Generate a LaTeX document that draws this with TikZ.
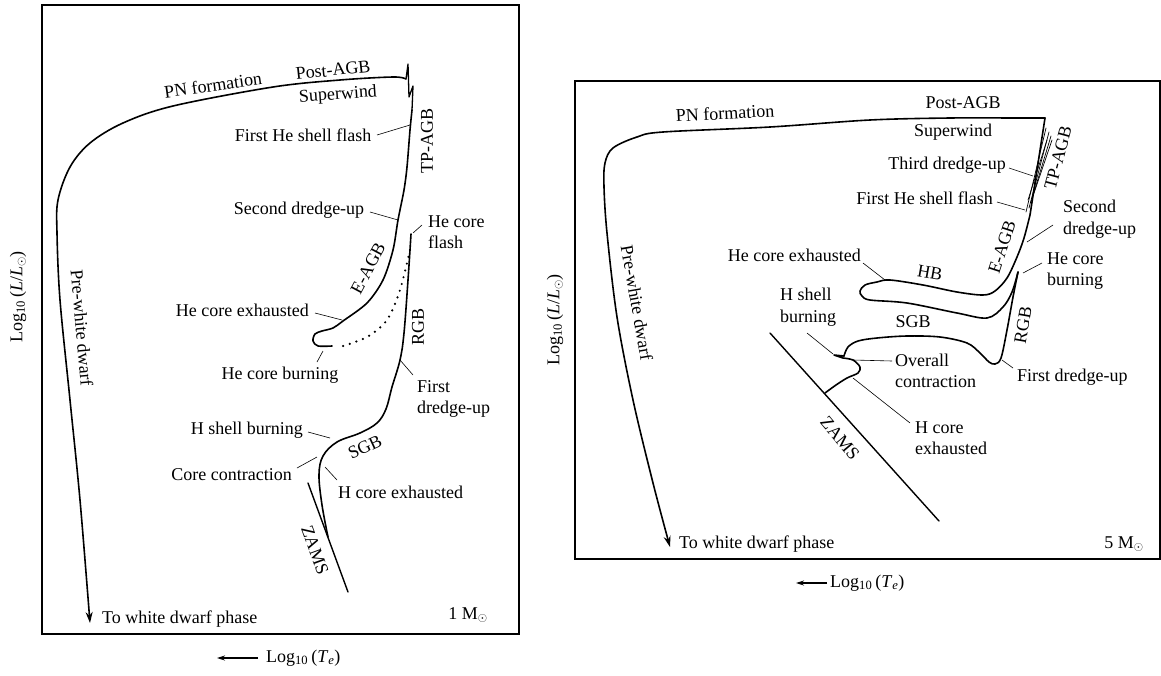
\documentclass[tikz,border=0pt]{standalone}
\usepackage{fontspec}
\setmainfont{Liberation Serif}
\usetikzlibrary{arrows.meta}
\begin{document}
\begin{tikzpicture}[x=1pt,y=-1pt,
  track/.style={line width=1.6pt,line join=round,line cap=round},
  thintrack/.style={line width=0.7pt,line cap=round},
  leader/.style={line width=0.6pt},
  frame/.style={line width=1.2pt},
  lab/.style={font=\fontsize{18}{21.5}\selectfont, inner sep=1pt},
  lab2/.style={lab, align=left, anchor=west},
  tip/.style={-{Stealth[length=11pt,width=7pt]}}]
\useasboundingbox (0,0) rectangle (1161,675);

%================ LEFT PANEL (1 Msun) ================
\draw[frame] (42,5) rectangle (519,634);

% ZAMS
\draw[track,line width=1.4pt] (308,483) -- (348,592);
% MS -> SGB -> RGB tip
\draw[track] plot[smooth,tension=0.6] coordinates {(328,537) (322,505) (319,475) (323,456) (337,442) (360,433) (377,423) (386,409) (392,387) (400,360) (404,333) (408,280) (411,234)};
% He flash (dotted)
\draw[line width=2.4pt,line cap=round,dash pattern=on 0pt off 7pt] plot[smooth] coordinates {(410,250) (400,290) (387,320) (367,337) (340,347)};
% He core burning -> E-AGB -> TP-AGB
\draw[track] plot[smooth,tension=0.5] coordinates {(332,346) (318,346) (313,341) (315,334) (322,331) (333,328) (343,321) (367,303) (383,280) (393,250) (398,220) (404,190) (407,167) (410,130) (412,110)};
% thermal pulses
\draw[track,line width=1.3pt] (412,110) -- (413,86) -- (409,97) -- (408,64) -- (406,79);
% Post-AGB -> pre-white dwarf
\draw[track,tip] plot[smooth,tension=0.55] coordinates {(406,79) (393,77) (340,80) (273,87) (173,106) (123,123) (90,143) (70,167) (58,200) (57,233) (60,300) (70,400) (80,500) (90,623)};

% labels
\node[lab,rotate=8] (lpn) at (213,85) {PN formation};
\node[lab,rotate=6] (lpagb) at (333,70) {Post-AGB};
\node[lab,rotate=4] (lsw) at (338,95) {Superwind};
\node[lab] (lfhsf) at (303,135) {First He shell flash};
\node[lab,rotate=90] (ltpagb) at (427,141) {TP-AGB};
\node[lab] (lsdu) at (299,210) {Second dredge-up};
\node[lab2] (lhcf) at (427,232) {He core\\flash};
\node[lab,rotate=62] (leagb) at (368,268) {E-AGB};
\node[lab,anchor=east] (lhce) at (310,310) {He core exhausted};
\node[lab] (lhcb) at (280,375) {He core burning};
\node[lab,rotate=90] (lrgb) at (418,327) {RGB};
\node[lab2] (lfdu) at (416,399) {First\\dredge-up};
\node[lab,anchor=east] (lhsb) at (304,430) {H shell burning};
\node[lab,rotate=25] (lsgb) at (365,447) {SGB};
\node[lab,anchor=east] (lcc) at (293,475) {Core contraction};
\node[lab,anchor=west] (lhcx) at (337,492) {H core exhausted};
\node[lab,rotate=-70] (lzams) at (315,550) {ZAMS};
\node[lab,rotate=-85] (lpwd) at (82,328) {Pre-white dwarf};
\node[lab,anchor=west] (ltwd) at (101,619) {To white dwarf phase};
\node[lab] (lmass) at (468,615) {1 M\textsubscript{$\odot$}};
\node[lab,rotate=90] (lylab) at (18,297) {Log\textsubscript{10}\,(\textit{L}/\textit{L}\textsubscript{$\odot$})};
\node[lab,anchor=west] (lxlab) at (265,658) {Log\textsubscript{10}\,(\textit{T}\textsubscript{\textit{e}})};
\coordinate (lxa1) at (258,658);
\coordinate (lxa2) at (217,658);
\draw[line width=1.1pt,-{Stealth[length=8pt,width=5pt]}] (lxa1) -- (lxa2);

% leaders
\coordinate (a1) at (377,135); \coordinate (b1) at (410,125);
\coordinate (a2) at (370,212); \coordinate (b2) at (398,220);
\coordinate (a3) at (422,225); \coordinate (b3) at (413,233);
\coordinate (a4) at (315,313); \coordinate (b4) at (342,320);
\coordinate (a5) at (317,362); \coordinate (b5) at (323,351);
\coordinate (a6) at (413,375); \coordinate (b6) at (400,360);
\coordinate (a7) at (308,432); \coordinate (b7) at (330,438);
\coordinate (a8) at (297,468); \coordinate (b8) at (317,457);
\coordinate (a9) at (337,480); \coordinate (b9) at (325,467);
\foreach \i in {1,...,9} {\draw[leader] (a\i) -- (b\i);}

%================ RIGHT PANEL (5 Msun) ================
\draw[frame] (575,81) rectangle (1160,559);

% ZAMS
\draw[track,line width=1.4pt] (770,333) -- (939,521);
% MS hook, overall contraction
\draw[track] plot[smooth,tension=0.5] coordinates {(825,393) (836,385) (847,378) (858,373) (860,367) (853,360) (843,358)} -- (834,355) -- (844,356);
% SGB -> RGB
\draw[track] plot[smooth,tension=0.55] coordinates {(844,356) (848,347) (858,341) (877,338) (907,336) (940,337) (967,343) (980,353) (989,362) (995,364) (1001,358) (1007,330) (1013,297) (1018,272)};
% HB loop -> E-AGB
\draw[track] plot[smooth,tension=0.55] coordinates {(1018,272) (1012,292) (1003,307) (987,318) (957,313) (907,303) (870,300) (862,296) (860,291) (865,285) (877,282) (890,280) (923,285) (957,292) (983,295) (995,291) (1007,278) (1017,257) (1024,238) (1030,215)} -- (1045,118);
% thermal pulses bundle
\draw[thintrack] (1026,212) -- (1046,128);
\draw[thintrack] (1029,208) -- (1049,132);
\draw[thintrack] (1031,202) -- (1051,136);
\draw[thintrack] (1033,196) -- (1052,140);
\draw[thintrack] (1028,200) -- (1047,140);
% Post-AGB -> pre-white dwarf
\draw[track,tip] plot[smooth,tension=0.55] coordinates {(1045,118) (1017,118) (950,118) (870,120) (770,127) (663,132) (637,137) (613,148) (605,163) (604,187) (607,233) (617,317) (633,400) (653,483) (670,547)};

% labels
\node[lab,rotate=3] (rpn) at (725,113) {PN formation};
\node[lab] (rpagb) at (963,103) {Post-AGB};
\node[lab] (rsw) at (953,132) {Superwind};
\node[lab,anchor=east] (rtdu) at (1007,165) {Third dredge-up};
\node[lab,anchor=east] (rfhsf) at (994,198) {First He shell flash};
\node[lab,rotate=75] (rtpagb) at (1058,158) {TP-AGB};
\node[lab2] (rsdu) at (1062,219) {Second\\dredge-up};
\node[lab,rotate=72] (reagb) at (1002,247) {E-AGB};
\node[lab2] (rhcb) at (1046,271) {He core\\burning};
\node[lab,rotate=-10] (rhb) at (930,273) {HB};
\node[lab,anchor=east] (rhce) at (862,255) {He core exhausted};
\node[lab2] (rhsb) at (779,307) {H shell\\burning};
\node[lab] (rsgb) at (913,322) {SGB};
\node[lab,rotate=80] (rrgb) at (1023,325) {RGB};
\node[lab2] (roc) at (894,371) {Overall\\contraction};
\node[lab,anchor=west] (rfdu) at (1016,377) {First dredge-up};
\node[lab2] (rhcx) at (914,438) {H core\\exhausted};
\node[lab,rotate=-50] (rzams) at (840,438) {ZAMS};
\node[lab,rotate=-80] (rpwd) at (637,303) {Pre-white dwarf};
\node[lab,anchor=west] (rtwd) at (678,544) {To white dwarf phase};
\node[lab] (rmass) at (1124,544) {5 M\textsubscript{$\odot$}};
\node[lab,rotate=90] (rylab) at (555,320) {Log\textsubscript{10}\,(\textit{L}/\textit{L}\textsubscript{$\odot$})};
\node[lab,anchor=west] (rxlab) at (829,583) {Log\textsubscript{10}\,(\textit{T}\textsubscript{\textit{e}})};
\coordinate (rxa1) at (827,583);
\coordinate (rxa2) at (796,583);
\draw[line width=1.1pt,-{Stealth[length=8pt,width=5pt]}] (rxa1) -- (rxa2);

% leaders
\coordinate (c1) at (1009,168); \coordinate (d1) at (1033,176);
\coordinate (c2) at (997,202);  \coordinate (d2) at (1025,210);
\coordinate (c3) at (1053,225); \coordinate (d3) at (1027,242);
\coordinate (c4) at (1042,263); \coordinate (d4) at (1023,273);
\coordinate (c5) at (863,263);  \coordinate (d5) at (885,280);
\coordinate (c6) at (807,333);  \coordinate (d6) at (833,354);
\coordinate (c7) at (892,361);  \coordinate (d7) at (853,360);
\coordinate (c8) at (1013,368); \coordinate (d8) at (1002,360);
\coordinate (c9) at (910,423);  \coordinate (d9) at (853,378);
\foreach \i in {1,...,9} {\draw[leader] (c\i) -- (d\i);}
\end{tikzpicture}
\end{document}
